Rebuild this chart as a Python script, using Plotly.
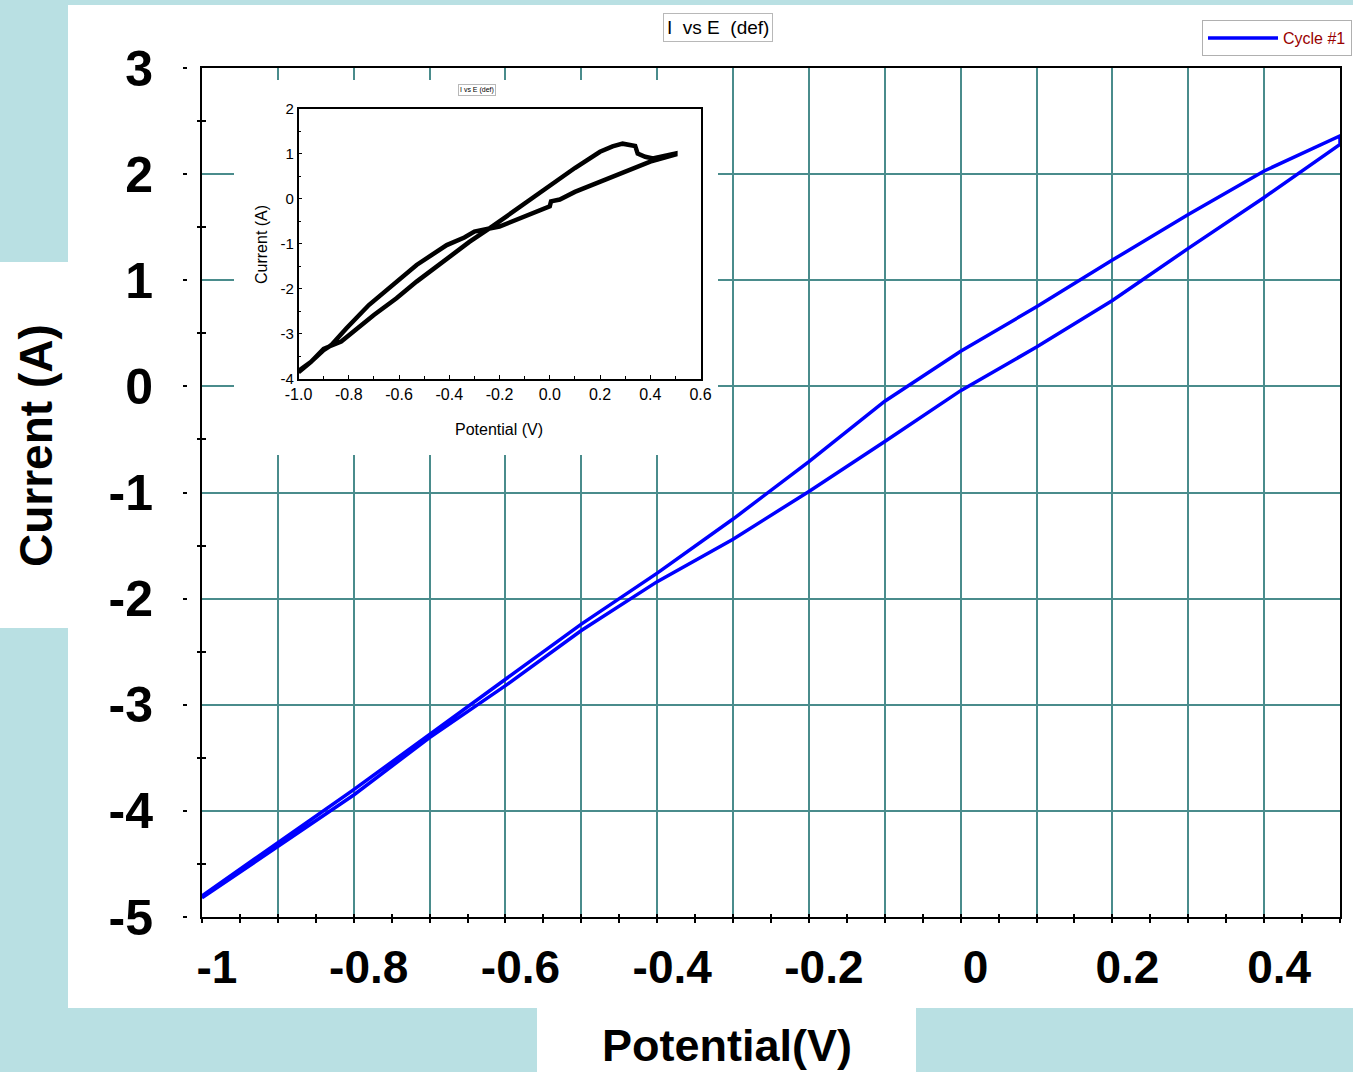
import plotly.graph_objects as go

# ---------------- data ----------------
# Main plot: Cycle #1
potential_main = [-1.0, -0.9, -0.8, -0.7, -0.6, -0.5, -0.4, -0.3, -0.2, -0.1,
                  0.0, 0.1, 0.2, 0.3, 0.4, 0.5]
current_lower = [-4.82, -4.33, -3.85, -3.31, -2.82, -2.30, -1.84, -1.44, -0.99, -0.52,
                 -0.04, 0.37, 0.81, 1.30, 1.78, 2.28]
current_upper = [-4.80, -4.30, -3.80, -3.28, -2.76, -2.24, -1.76, -1.25, -0.71, -0.14,
                 0.33, 0.75, 1.19, 1.62, 2.03, 2.36]

# Inset plot
inset_potential_fwd = [-1.0, -0.95, -0.9, -0.83, -0.70, -0.61, -0.53, -0.41, -0.32, -0.24,
                       -0.10, 0.0, 0.10, 0.20, 0.25, 0.29, 0.34, 0.35, 0.38, 0.41, 0.45, 0.5]
inset_current_fwd = [-3.85, -3.62, -3.33, -3.17, -2.58, -2.21, -1.84, -1.33, -0.96, -0.66,
                     -0.10, 0.30, 0.68, 1.04, 1.16, 1.22, 1.17, 1.00, 0.93, 0.89, 0.93, 1.00]
inset_potential_rev = [0.5, 0.40, 0.30, 0.20, 0.10, 0.04, 0.005, 0.0, -0.10, -0.20, -0.24,
                       -0.30, -0.34, -0.41, -0.53, -0.61, -0.72, -0.81, -0.87, -0.90, -0.95, -1.0]
inset_current_rev = [0.98, 0.82, 0.60, 0.37, 0.15, -0.02, -0.06, -0.17, -0.40, -0.62, -0.66,
                     -0.73, -0.86, -1.03, -1.47, -1.84, -2.36, -2.88, -3.25, -3.36, -3.62, -3.82]

# Tick labels
main_x_tickvals = [-1.0, -0.9, -0.8, -0.7, -0.6, -0.5, -0.4, -0.3, -0.2, -0.1,
                   0.0, 0.1, 0.2, 0.3, 0.4, 0.5]
main_x_ticktext = ["-1", "", "-0.8", "", "-0.6", "", "-0.4", "", "-0.2", "",
                   "0", "", "0.2", "", "0.4", ""]
main_y_tickvals = [-5, -4, -3, -2, -1, 0, 1, 2, 3]
main_y_ticktext = ["-5", "-4", "-3", "-2", "-1", "0", "1", "2", "3"]
inset_x_tickvals = [-1.0, -0.8, -0.6, -0.4, -0.2, 0.0, 0.2, 0.4, 0.6]
inset_x_ticktext = ["-1.0", "-0.8", "-0.6", "-0.4", "-0.2", "0.0", "0.2", "0.4", "0.6"]
inset_y_tickvals = [-4, -3, -2, -1, 0, 1, 2]
inset_y_ticktext = ["-4", "-3", "-2", "-1", "0", "1", "2"]

# ---------------- layout helpers ----------------
W, H = 1353, 1072
L, R, T, B = 150, 13, 68, 155
PW, PH = W - L - R, H - T - B


def fx(p):
    return (p - L) / PW


def fy(p):
    return (H - B - p) / PH


FONT = "Liberation Sans"
TEAL = "#4a8c8c"
BG = "#b9e0e3"

fig = go.Figure()

main_x = potential_main + potential_main[::-1]
main_y = current_lower + current_upper[::-1]

fig.add_trace(go.Scatter(x=main_x, y=main_y, mode="lines", name="Cycle #1",
                         line=dict(color="#0000ff", width=3.5), xaxis="x", yaxis="y"))

# placeholder (invisible) traces so the overlay tick axes are drawn
for xa, ya in [("x2", "y"), ("x3", "y"), ("x", "y2"), ("x", "y3"), ("x", "y4"), ("x5", "y5")]:
    fig.add_trace(go.Scatter(x=main_x[:1], y=main_y[:1], mode="markers", opacity=0,
                             showlegend=False, hoverinfo="skip", xaxis=xa, yaxis=ya))

fig.add_trace(go.Scatter(x=inset_potential_fwd + inset_potential_rev,
                         y=inset_current_fwd + inset_current_rev,
                         mode="lines", line=dict(color="black", width=4.5),
                         showlegend=False, xaxis="x6", yaxis="y6"))

tick_common = dict(showticklabels=False, showgrid=False, showline=False, zeroline=False,
                   tickcolor="black", tickwidth=1.5)

fig.update_layout(
    width=W, height=H,
    margin=dict(l=L, r=R, t=T, b=B, autoexpand=False),
    paper_bgcolor=BG, plot_bgcolor="white",
    font=dict(family=FONT, color="black"),
    showlegend=True,
    legend=dict(x=fx(1352), xanchor="right", y=fy(20), yanchor="top",
                bgcolor="white", bordercolor="#b0b0b0", borderwidth=1,
                font=dict(family=FONT, size=16, color="#990000"),
                itemwidth=70),
    xaxis=dict(domain=[fx(202), 1], range=[-1, 0.5], tickmode="array",
               tickvals=main_x_tickvals, ticktext=main_x_ticktext,
               showgrid=True, gridcolor=TEAL, gridwidth=2, zeroline=False,
               showline=True, linecolor="black", linewidth=2, mirror=True, ticks="",
               tickfont=dict(family=FONT, size=46, weight="bold"),
               ticklabelstandoff=9, ticklabelshift=15, anchor="y"),
    yaxis=dict(domain=[0, 1], range=[-5, 3], tickmode="array",
               tickvals=main_y_tickvals, ticktext=main_y_ticktext,
               showgrid=True, gridcolor=TEAL, gridwidth=2, zeroline=False,
               showline=True, linecolor="black", linewidth=2, mirror=True, ticks="",
               tickfont=dict(family=FONT, size=50, weight="bold"),
               ticklabelstandoff=37, anchor="x"),
    xaxis2=dict(overlaying="x", anchor="y", side="bottom", range=[-1, 0.5],
                tickmode="linear", tick0=-1, dtick=0.05, ticks="outside", ticklen=5,
                **tick_common),
    xaxis3=dict(overlaying="x", anchor="y", side="bottom", range=[-1, 0.5],
                tickmode="linear", tick0=-1, dtick=0.05, ticks="inside", ticklen=3,
                **tick_common),
    yaxis2=dict(overlaying="y", anchor="x", side="left", range=[-5, 3],
                tickmode="linear", tick0=-4.5, dtick=1, ticks="outside", ticklen=4,
                **tick_common),
    yaxis3=dict(overlaying="y", anchor="x", side="left", range=[-5, 3],
                tickmode="linear", tick0=-4.5, dtick=1, ticks="inside", ticklen=4,
                **tick_common),
    yaxis4=dict(overlaying="y", anchor="free", position=fx(187), side="left", range=[-5, 3],
                tickmode="linear", tick0=-5, dtick=1, ticks="outside", ticklen=4,
                **tick_common),
    xaxis5=dict(domain=[fx(234), fx(718)], range=[10, 11], anchor="y5", ticks="",
                showticklabels=False, showgrid=False, showline=False, zeroline=False),
    yaxis5=dict(domain=[fy(455), fy(80)], range=[10, 11], anchor="x5", ticks="",
                showticklabels=False, showgrid=False, showline=False, zeroline=False),
    xaxis6=dict(domain=[fx(298.5), fx(700.5)], range=[-1, 0.6], anchor="y6",
                tickmode="array", tickvals=inset_x_tickvals, ticktext=inset_x_ticktext,
                showgrid=False, zeroline=False, showline=True, linecolor="black",
                linewidth=1.5, mirror=True, ticks="inside", ticklen=4, tickcolor="black",
                minor=dict(tickmode="linear", tick0=-1, dtick=0.1, ticks="inside",
                           ticklen=3, tickcolor="black"),
                tickfont=dict(family=FONT, size=16)),
    yaxis6=dict(domain=[fy(379), fy(108.5)], range=[-4, 2], anchor="x6",
                tickmode="array", tickvals=inset_y_tickvals, ticktext=inset_y_ticktext,
                showgrid=False, zeroline=False, showline=True, linecolor="black",
                linewidth=1.5, mirror=True, ticks="inside", ticklen=4, tickcolor="black",
                minor=dict(tickmode="linear", tick0=-4, dtick=0.5, ticks="inside",
                           ticklen=3, tickcolor="black"),
                tickfont=dict(family=FONT, size=15)),
)

# white panels behind the chart
panels = [(68, 5, 1353, 1008), (0, 262, 68, 628), (537, 1008, 916, 1072)]
for x0, y0, x1, y1 in panels:
    fig.add_shape(type="rect", xref="paper", yref="paper", layer="below",
                  x0=fx(x0), x1=fx(x1), y0=fy(y1), y1=fy(y0),
                  fillcolor="white", line=dict(width=0))

annotations = [
    dict(text="I  vs E  (def)", x=fx(718), y=fy(27), font=dict(size=19, family=FONT),
         bordercolor="#b8b8b8", borderwidth=1, borderpad=3, bgcolor="white"),
    dict(text="I vs E (def)", x=fx(477), y=fy(90), font=dict(size=7, family=FONT),
         bordercolor="#b8b8b8", borderwidth=1, borderpad=1, bgcolor="white"),
    dict(text="Current (A)", x=fx(36), y=fy(445), textangle=-90,
         font=dict(size=46, family=FONT, weight="bold")),
    dict(text="Potential(V)", x=fx(727), y=fy(1045),
         font=dict(size=45, family=FONT, weight="bold")),
    dict(text="Current (A)", x=fx(261), y=fy(245), textangle=-90,
         font=dict(size=16, family=FONT)),
    dict(text="Potential (V)", x=fx(499), y=fy(429), font=dict(size=16, family=FONT)),
]
for a in annotations:
    fig.add_annotation(xref="paper", yref="paper", showarrow=False,
                       xanchor="center", yanchor="middle", **a)

fig.write_html("out.html", config={"displayModeBar": False},
               post_script="document.body.style.margin='0px';document.body.style.overflow='hidden';")
